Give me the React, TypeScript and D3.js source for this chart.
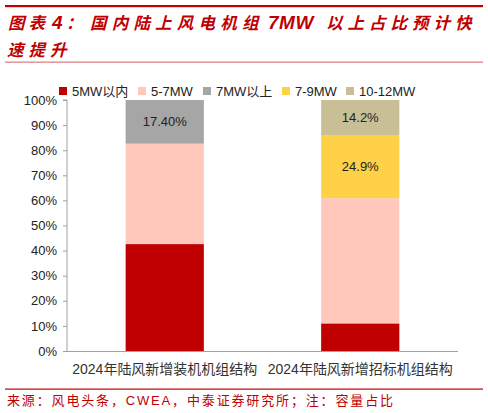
import { FC, useRef, useEffect } from 'react';
import * as d3 from 'd3';

// categories (x) and series (stack order, bottom -> top)
const categories = ['2024年陆风新增装机机组结构', '2024年陆风新增招标机组结构'];
const seriesNames = ['5MW以内', '5-7MW', '7MW以上', '7-9MW', '10-12MW'];
const below5 = [42.6, 11.0];
const from5to7 = [40.0, 49.9];
const above7 = [17.4, 0];
const from7to9 = [0, 24.9];
const from10to12 = [0, 14.2];
// value labels drawn on the bars ('' = none)
const above7Labels = ['17.40%', ''];
const from7to9Labels = ['', '24.9%'];
const from10to12Labels = ['', '14.2%'];
const yTicks = [0, 10, 20, 30, 40, 50, 60, 70, 80, 90, 100];

const colors = ['#C00000', '#FFC8BA', '#A6A6A6', '#FFD147', '#C9BF97'];
const FONT = '"Liberation Sans", Arial, "Noto Sans CJK SC", sans-serif';
const CJK = '"Noto Sans CJK SC", sans-serif';

// title pieces: [text, x, letter-spacing]
const titleParts: [string, number, number][] = [
  ['图表', 8, 4],
  ['4', 52, 0],
  ['：', 66, 0],
  ['国内陆上风电机组', 90, 5.2],
  ['7MW', 268, 0.5],
  ['以上占比预计快', 326, 5],
];

const App: FC = () => {
  const ref = useRef<SVGSVGElement>(null);

  useEffect(() => {
    document.body.style.margin = '0';
    const width = 488, height = 413;
    const margin = { top: 100, right: 30, bottom: 62, left: 67 };

    const svg = d3.select(ref.current).attr('width', width).attr('height', height);
    svg.selectAll('*').remove();

    // title block
    svg.append('rect').attr('x', 5).attr('y', 5).attr('width', 478).attr('height', 2.2).attr('fill', '#C00000');
    const title = svg.append('text').attr('y', 29)
      .attr('fill', '#C00000').attr('font-weight', 'bold').attr('font-style', 'italic').attr('font-size', 16.5);
    titleParts.forEach(([t, tx, ls]) => {
      const latin = /[0-9A-Z]/.test(t);
      title.append('tspan').attr('x', tx).attr('letter-spacing', ls)
        .attr('font-family', latin ? FONT : CJK)
        .attr('font-size', latin ? 19 : 16.5)
        .text(t);
    });
    svg.append('text').attr('x', 7).attr('y', 56)
      .attr('fill', '#C00000').attr('font-family', CJK).attr('font-weight', 'bold').attr('font-style', 'italic')
      .attr('font-size', 16.5).attr('letter-spacing', 5).text('速提升');
    svg.append('rect').attr('x', 5).attr('y', 61.5).attr('width', 478).attr('height', 1.3).attr('fill', '#E08484');

    // data table for the stack
    const rows = categories.map((c, i) => ({
      cat: c,
      [seriesNames[0]]: below5[i],
      [seriesNames[1]]: from5to7[i],
      [seriesNames[2]]: above7[i],
      [seriesNames[3]]: from7to9[i],
      [seriesNames[4]]: from10to12[i],
    }));
    const labels = [categories.map(() => ''), categories.map(() => ''), above7Labels, from7to9Labels, from10to12Labels];
    const stacked = d3.stack<any>().keys(seriesNames)(rows);

    const x = d3.scaleBand().domain(categories)
      .range([margin.left, width - margin.right]).paddingInner(0.6).paddingOuter(0.3);
    const y = d3.scaleLinear().domain([0, 100]).range([height - margin.bottom, margin.top]);

    // bars
    stacked.forEach((s, si) => {
      const g = svg.append('g').attr('fill', colors[si]);
      g.selectAll('rect').data(s).join('rect')
        .attr('x', d => x(d.data.cat)!)
        .attr('y', d => y(d[1]))
        .attr('width', x.bandwidth())
        .attr('height', d => y(d[0]) - y(d[1]));
      svg.append('g').selectAll('text').data(s).join('text')
        .attr('x', d => x(d.data.cat)! + x.bandwidth() / 2)
        .attr('y', d => (y(d[0]) + y(d[1])) / 2)
        .attr('dy', '0.35em').attr('text-anchor', 'middle')
        .attr('font-family', FONT).attr('font-size', 13).attr('fill', '#222')
        .text((d, i) => labels[si][i]);
    });

    // y axis
    const yAxis = svg.append('g').attr('transform', `translate(${margin.left},0)`)
      .call(d3.axisLeft(y).tickValues(yTicks).tickFormat(d => d + '%').tickSize(4).tickPadding(6));
    yAxis.selectAll('path, line').attr('stroke', '#A0A0A0');
    yAxis.select('.domain').attr('d', `M-4,${y(100)}H0V${y(0)}`);
    yAxis.selectAll('text').attr('font-family', FONT).attr('font-size', 13).attr('fill', '#222');

    // x axis
    const xAxis = svg.append('g').attr('transform', `translate(0,${y(0)})`)
      .call(d3.axisBottom(x).tickSize(0).tickPadding(13));
    xAxis.select('.domain').attr('stroke', '#A0A0A0').attr('d', `M${margin.left},0.5H${width - margin.right}`);
    xAxis.selectAll('text').attr('font-family', FONT).attr('font-size', 14).attr('fill', '#333')
      .attr('textLength', 185).attr('lengthAdjust', 'spacing');

    // legend
    const legendX = [59, 138, 203, 282, 346];
    const legend = svg.append('g');
    seriesNames.forEach((n, i) => {
      legend.append('rect').attr('x', legendX[i]).attr('y', 87).attr('width', 8).attr('height', 8).attr('fill', colors[i]);
      legend.append('text').attr('x', legendX[i] + 13).attr('y', 91).attr('dy', '0.35em')
        .attr('font-family', FONT).attr('font-size', 13).attr('fill', '#222').text(n);
    });

    // source
    svg.append('rect').attr('x', 5).attr('y', 388.5).attr('width', 478).attr('height', 1.2).attr('fill', '#C00000');
    svg.append('text').attr('x', 7).attr('y', 405)
      .attr('textLength', 386).attr('lengthAdjust', 'spacing')
      .attr('font-family', FONT).attr('font-size', 13).attr('fill', '#C00000')
      .text('来源：风电头条，CWEA，中泰证券研究所；注：容量占比');
  }, []);

  return <svg ref={ref} style={{ display: 'block' }}></svg>;
};

export default App;
